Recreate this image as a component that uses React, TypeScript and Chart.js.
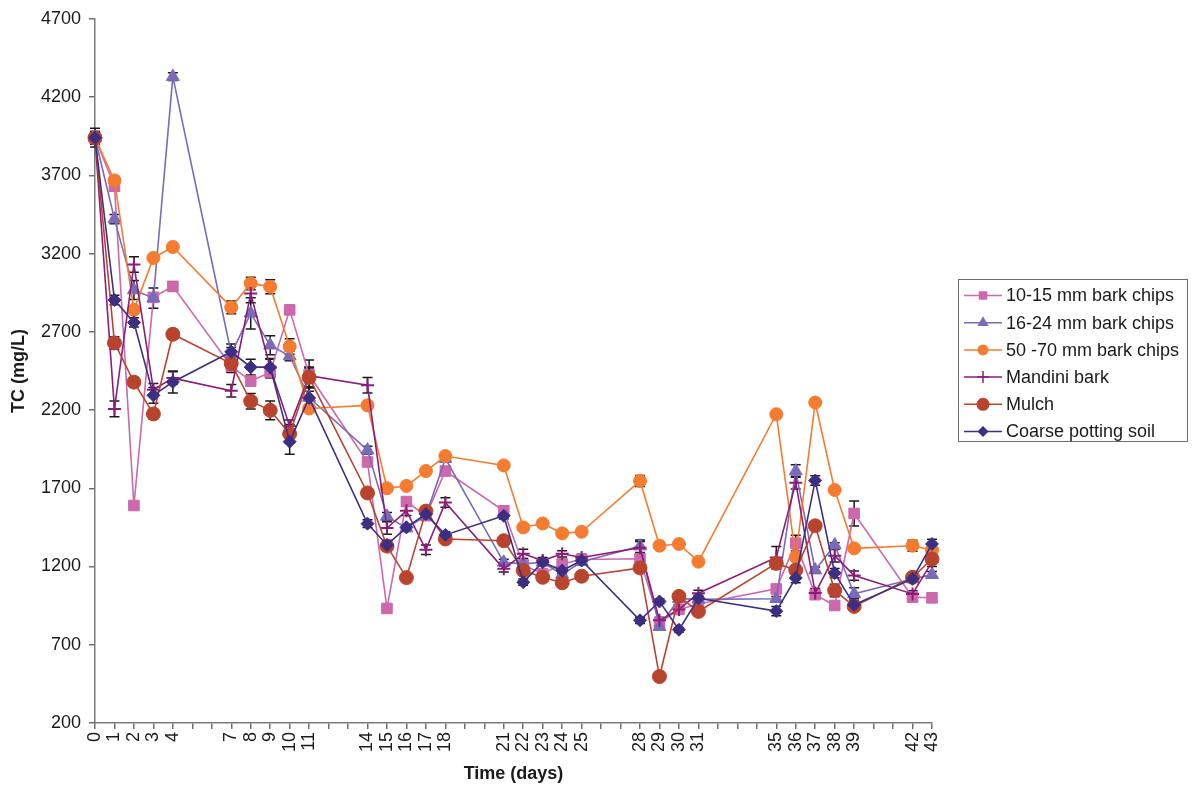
import React, { useEffect, useRef } from 'react';
import { Chart, registerables } from 'chart.js';

Chart.register(...registerables);

// Sampling days (x positions) and the days that get a tick label
const days = [0, 1, 2, 3, 4, 7, 8, 9, 10, 11, 14, 15, 16, 17, 18, 21, 22, 23, 24, 25, 28, 29, 30, 31, 35, 36, 37, 38, 39, 42, 43];
const labelledDays = days;

const seriesNames = [
  '10-15 mm bark chips',
  '16-24 mm bark chips',
  '50 -70 mm bark chips',
  'Mandini bark',
  'Mulch',
  'Coarse potting soil',
];

// Total carbon, mg/L
const chips10to15 = [3940, 3630, 1590, 2920, 2990, 2480, 2385, 2440, 2840, 2425, 1868, 932, 1615, 1525, 1810, 1556, 1210, 1153, 1217, 1245, 1250, 840, 926, 960, 1057, 1349, 1020, 951, 1539, 1004, 1000];
const chips16to24 = [3940, 3420, 2967, 2915, 4330, 2560, 2818, 2614, 2545, 2280, 1944, 1520, 1445, 1525, 1890, 1227, 1217, 1227, 1150, 1230, 1330, 815, 995, 990, 994, 1810, 1177, 1337, 1025, 1120, 1148];
const chips50to70 = [3940, 3667, 2840, 3172, 3242, 2856, 3009, 2988, 2606, 2210, 2230, 1700, 1715, 1810, 1906, 1846, 1450, 1475, 1412, 1422, 1747, 1333, 1344, 1231, 2173, 1260, 2248, 1689, 1316, 1333, 1305];
const mandiniBark = [3940, 2207, 3130, 2330, 2404, 2323, 2945, 2470, 2097, 2420, 2358, 1446, 1556, 1307, 1609, 1185, 1281, 1238, 1281, 1258, 1320, 856, 926, 1029, 1258, 1736, 1030, 1269, 1142, 1025, 1230];
const mulch = [3940, 2629, 2378, 2175, 2684, 2497, 2256, 2198, 2048, 2409, 1670, 1330, 1129, 1554, 1376, 1365, 1174, 1131, 1096, 1138, 1191, 497, 1009, 913, 1220, 1177, 1460, 1047, 945, 1131, 1248];
const coarseSoil = [3940, 2903, 2760, 2294, 2379, 2572, 2474, 2474, 1998, 2277, 1474, 1338, 1450, 1535, 1402, 1524, 1100, 1227, 1174, 1238, 856, 977, 796, 997, 915, 1127, 1750, 1158, 955, 1121, 1344];

// Standard deviations, mg/L
const err10to15 = [30, 25, 15, 25, 30, 40, 30, 35, 20, 50, 25, 15, 20, 20, 20, 20, 20, 15, 15, 15, 20, 20, 15, 15, 15, 50, 15, 15, 80, 15, 15];
const err16to24 = [30, 30, 60, 65, 25, 40, 100, 60, 30, 60, 25, 25, 20, 20, 20, 20, 20, 15, 15, 15, 40, 20, 15, 15, 15, 40, 20, 15, 40, 15, 20];
const err50to70 = [30, 25, 20, 20, 25, 40, 40, 45, 50, 20, 15, 15, 15, 15, 15, 15, 15, 15, 15, 15, 35, 15, 15, 15, 20, 20, 15, 15, 15, 35, 20];
const errMandini = [40, 50, 50, 40, 40, 40, 60, 60, 40, 100, 50, 40, 30, 30, 30, 20, 30, 20, 20, 20, 40, 20, 20, 20, 70, 40, 30, 40, 30, 20, 30];
const errMulch = [40, 40, 30, 30, 30, 40, 50, 60, 60, 60, 25, 30, 20, 20, 20, 20, 30, 20, 20, 20, 30, 15, 15, 15, 35, 30, 20, 40, 25, 20, 30];
const errCoarse = [60, 30, 30, 50, 70, 50, 50, 50, 80, 70, 25, 30, 20, 20, 20, 20, 20, 20, 20, 20, 20, 15, 15, 20, 30, 30, 30, 30, 40, 20, 30];

const yTicks = [200, 700, 1200, 1700, 2200, 2700, 3200, 3700, 4200, 4700];

const seriesValues = [chips10to15, chips16to24, chips50to70, mandiniBark, mulch, coarseSoil];
const seriesErrors = [err10to15, err16to24, err50to70, errMandini, errMulch, errCoarse];
const seriesColors = ['#cc68ac', '#7a6ab8', '#f47b30', '#8c1c78', '#b9442e', '#3e2e82'];
const seriesMarkers = ['rect', 'triangle', 'circle', 'cross', 'circle', 'rectRot'];
const markerRadius = [7.5, 7.5, 6.5, 6.5, 7, 6.5];
const legendRadius = [6, 6.5, 5.5, 6, 6.5, 5.5];

const FONT = '"Liberation Sans", Arial, sans-serif';

// Draw one legend marker glyph centred at (x, y)
function drawMarker(ctx: CanvasRenderingContext2D, style: string, r: number, x: number, y: number, color: string) {
  ctx.fillStyle = color;
  ctx.strokeStyle = color;
  ctx.beginPath();
  if (style === 'rect') {
    const s = r * Math.SQRT1_2;
    ctx.rect(x - s, y - s, 2 * s, 2 * s);
    ctx.fill();
  } else if (style === 'triangle') {
    ctx.moveTo(x, y - r);
    ctx.lineTo(x + r * 0.866, y + r * 0.5);
    ctx.lineTo(x - r * 0.866, y + r * 0.5);
    ctx.closePath();
    ctx.fill();
  } else if (style === 'circle') {
    ctx.arc(x, y, r, 0, Math.PI * 2);
    ctx.fill();
  } else if (style === 'rectRot') {
    ctx.moveTo(x, y - r);
    ctx.lineTo(x + r, y);
    ctx.lineTo(x, y + r);
    ctx.lineTo(x - r, y);
    ctx.closePath();
    ctx.fill();
  } else if (style === 'cross') {
    ctx.lineWidth = 1.5;
    ctx.moveTo(x, y - r);
    ctx.lineTo(x, y + r);
    ctx.moveTo(x - r, y);
    ctx.lineTo(x + r, y);
    ctx.stroke();
  }
}

const errorBarPlugin = {
  id: 'errorBars',
  beforeDatasetsDraw(chart: any) {
    const ctx = chart.ctx;
    const yScale = chart.scales.y;
    ctx.save();
    ctx.strokeStyle = '#1a1a1a';
    ctx.lineWidth = 1.5;
    chart.data.datasets.forEach((ds: any, di: number) => {
      const meta = chart.getDatasetMeta(di);
      const errs = seriesErrors[di];
      meta.data.forEach((pt: any, i: number) => {
        const v = ds.data[i].y;
        const e = errs[i];
        const yTop = yScale.getPixelForValue(v + e);
        const yBot = yScale.getPixelForValue(v - e);
        const x = pt.x;
        ctx.beginPath();
        ctx.moveTo(x, yTop);
        ctx.lineTo(x, yBot);
        ctx.moveTo(x - 5, yTop);
        ctx.lineTo(x + 5, yTop);
        ctx.moveTo(x - 5, yBot);
        ctx.lineTo(x + 5, yBot);
        ctx.stroke();
      });
    });
    ctx.restore();
  },
};

const legendPlugin = {
  id: 'boxLegend',
  afterDraw(chart: any) {
    const ctx = chart.ctx;
    const left = 958.5;
    const top = 279.5;
    const w = 229;
    const h = 162;
    ctx.save();
    ctx.fillStyle = '#ffffff';
    ctx.fillRect(left, top, w, h);
    ctx.strokeStyle = '#6e6e6e';
    ctx.lineWidth = 1;
    ctx.strokeRect(left, top, w, h);
    seriesNames.forEach((name, i) => {
      const y = top + 16 + i * 27.2;
      ctx.strokeStyle = seriesColors[i];
      ctx.lineWidth = 1.5;
      ctx.beginPath();
      ctx.moveTo(964, y);
      ctx.lineTo(1002, y);
      ctx.stroke();
      drawMarker(ctx, seriesMarkers[i], legendRadius[i], 983, y, seriesColors[i]);
      ctx.fillStyle = '#1a1a1a';
      ctx.font = `18px ${FONT}`;
      ctx.textBaseline = 'middle';
      ctx.textAlign = 'left';
      ctx.fillText(name, 1006, y + 1);
    });
    ctx.restore();
  },
};

export default function App() {
  const canvasRef = useRef<HTMLCanvasElement | null>(null);

  useEffect(() => {
    document.body.style.margin = '0';
    const canvas = canvasRef.current;
    if (!canvas) return;

    const datasets = seriesNames.map((name, i) => ({
      label: name,
      data: days.map((d, j) => ({ x: d, y: seriesValues[i][j] })),
      borderColor: seriesColors[i],
      backgroundColor: seriesColors[i],
      pointBackgroundColor: seriesColors[i],
      pointBorderColor: seriesColors[i],
      pointStyle: seriesMarkers[i],
      pointRadius: markerRadius[i],
      pointBorderWidth: seriesMarkers[i] === 'cross' ? 2 : 1,
      borderWidth: 1.6,
      tension: 0,
      fill: false,
      clip: false,
      order: seriesNames.length - 1 - i,
    }));

    const chart = new Chart(canvas, {
      type: 'line',
      data: { datasets },
      plugins: [errorBarPlugin, legendPlugin],
      options: {
        responsive: false,
        animation: false,
        events: [],
        layout: { padding: { left: 4, top: 16, right: 260, bottom: 0 } },
        plugins: {
          legend: { display: false },
          tooltip: { enabled: false },
        },
        scales: {
          x: {
            type: 'linear',
            min: 0,
            max: 43,
            afterFit: (scale: any) => {
              scale.height = 66;
            },
            afterBuildTicks: (scale: any) => {
              const t = [];
              for (let d = 0; d <= 43; d++) t.push({ value: d });
              scale.ticks = t;
            },
            ticks: {
              autoSkip: false,
              minRotation: 90,
              maxRotation: 90,
              padding: 3,
              color: '#1a1a1a',
              font: { family: FONT, size: 18 },
              callback: (v: any) => (labelledDays.includes(Number(v)) ? String(v) : ''),
            },
            grid: {
              drawOnChartArea: false,
              drawTicks: true,
              tickLength: 6,
              color: '#6e6e6e',
              lineWidth: 1.5,
            },
            border: { display: true, color: '#7a7a7a', width: 1.5 },
            title: {
              display: true,
              text: 'Time (days)',
              color: '#1a1a1a',
              font: { family: FONT, size: 18, weight: 'bold' },
              padding: { top: 4, bottom: 4 },
            },
          },
          y: {
            type: 'linear',
            min: 200,
            max: 4700,
            afterFit: (scale: any) => {
              scale.width = 91;
            },
            afterBuildTicks: (scale: any) => {
              scale.ticks = yTicks.map((v) => ({ value: v }));
            },
            ticks: {
              padding: 8,
              color: '#1a1a1a',
              font: { family: FONT, size: 18 },
              callback: (v: any) => String(v),
            },
            grid: {
              drawOnChartArea: false,
              drawTicks: true,
              tickLength: 6,
              color: '#6e6e6e',
              lineWidth: 1.5,
            },
            border: { display: true, color: '#7a7a7a', width: 1.5 },
            title: {
              display: true,
              text: 'TC (mg/L)',
              color: '#1a1a1a',
              font: { family: FONT, size: 18, weight: 'bold' },
              padding: { top: 4, bottom: 4 },
            },
          },
        },
      },
    } as any);

    return () => chart.destroy();
  }, []);

  return <canvas ref={canvasRef} width={1192} height={789} style={{ display: 'block' }} />;
}
